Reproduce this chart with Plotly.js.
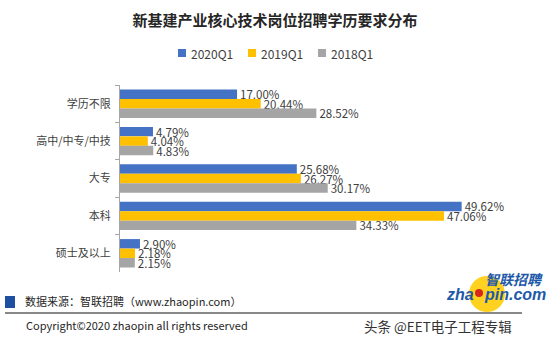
<!DOCTYPE html>
<html>
<head>
<meta charset="utf-8">
<script src="https://cdn.plot.ly/plotly-3.0.1.min.js"></script>
<style>html,body{margin:0;padding:0;background:#fff;}#chart{width:550px;height:346px;}</style>
</head>
<body>
<div id="chart"></div>
<script>
const categories = ["学历不限", "高中/中专/中技", "大专", "本科", "硕士及以上"];
const seriesNames = ["2020Q1", "2019Q1", "2018Q1"];
const values2020 = [17.00, 4.79, 25.68, 49.62, 2.90];
const values2019 = [20.44, 4.04, 26.27, 47.06, 2.18];
const values2018 = [28.52, 4.83, 30.17, 34.33, 2.15];
const colors = ["#4472C4", "#FFC000", "#A5A5A5"];

const FONT = "Noto Sans CJK SC, Noto Sans, sans-serif";
const allValues = [values2020, values2019, values2018];

const traces = allValues.map((vals, i) => ({
  type: "bar",
  orientation: "h",
  name: seriesNames[i],
  y: categories,
  x: vals,
  marker: {color: colors[i]},
  text: vals.map(v => v.toFixed(2) + "%"),
  textposition: "outside",
  constraintext: "none",
  cliponaxis: false,
  textfont: {size: 11.5, color: "#404040", family: FONT},
  hoverinfo: "none",
  showlegend: false
}));

// pixel helpers (plot area: x 120..540, y 85..272)
const L = 120, W = 420, T = 85, H = 187;
const px = x => (x - L) / W;
const py = y => (T + H - y) / H;

// compact legend (square swatch + label), built from the series arrays
const legendShapes = [], legendAnnots = [];
seriesNames.forEach((n, i) => {
  const x0 = 178 + 70 * i;
  legendShapes.push({type: "rect", xref: "paper", yref: "paper",
    x0: px(x0), x1: px(x0 + 8), y0: py(57), y1: py(49),
    fillcolor: colors[i], line: {width: 0}});
  legendAnnots.push({xref: "paper", yref: "paper", x: px(x0 + 11), y: py(53),
    xanchor: "left", yanchor: "middle", text: n, showarrow: false,
    font: {size: 12, color: "#404040", family: FONT}});
});

const layout = {
  width: 550, height: 346,
  margin: {l: L, r: 550 - L - W, t: T, b: 346 - T - H},
  paper_bgcolor: "#fff", plot_bgcolor: "#fff",
  font: {family: FONT, color: "#404040", size: 11},
  title: {
    text: "<b>新基建产业核心技术岗位招聘学历要求分布</b>",
    x: 0.5, xref: "container", xanchor: "center",
    y: 1 - 21 / 346, yref: "container", yanchor: "middle",
    font: {size: 15, color: "#262626", family: FONT}
  },
  showlegend: false,
  barmode: "group",
  bargap: 0.24,
  bargroupgap: 0,
  xaxis: {
    range: [0, 61], showgrid: false, zeroline: false,
    showticklabels: false, showline: false, ticks: "", fixedrange: true
  },
  yaxis: {
    type: "category",
    autorange: "reversed",
    showline: true, linecolor: "#A6A6A6", linewidth: 1,
    ticks: "outside", ticklen: 4, tickcolor: "#A6A6A6",
    tickson: "boundaries",
    ticklabelstandoff: 6,
    showgrid: false, zeroline: false,
    tickfont: {size: 11, color: "#404040", family: FONT}
  },
  shapes: legendShapes.concat([
    {type: "rect", xref: "paper", yref: "paper", x0: px(5), x1: px(15), y0: py(308), y1: py(296),
     fillcolor: "#1F4FA0", line: {width: 0}},
    {type: "line", xref: "paper", yref: "paper", x0: px(5), x1: px(522), y0: py(313), y1: py(313),
     line: {color: "#606060", width: 1.5}},
    {type: "circle", xref: "paper", yref: "paper", x0: px(469), x1: px(505), y0: py(312), y1: py(276),
     fillcolor: "#FFD21F", line: {width: 0}, layer: "above"},
    {type: "circle", xref: "paper", yref: "paper", x0: px(475), x1: px(483), y0: py(297), y1: py(289),
     fillcolor: "#D7261E", line: {width: 0}, layer: "above"}
  ]),
  annotations: legendAnnots.concat([
    {xref: "paper", yref: "paper", x: px(23), y: py(301), xanchor: "left", yanchor: "middle",
     text: "数据来源：智联招聘（www.zhaopin.com）", showarrow: false,
     font: {size: 11, color: "#262626", family: FONT}},
    {xref: "paper", yref: "paper", x: px(24), y: py(325), xanchor: "left", yanchor: "middle",
     text: "Copyright©2020 zhaopin all rights reserved", showarrow: false,
     font: {size: 11, color: "#262626", family: FONT}},
    {xref: "paper", yref: "paper", x: px(362), y: py(326), xanchor: "left", yanchor: "middle",
     text: "头条 @EET电子工程专辑", showarrow: false,
     font: {size: 13.5, color: "#333333", family: FONT}},
    {xref: "paper", yref: "paper", x: px(476), y: py(294), xanchor: "right", yanchor: "middle",
     text: "<b><i>zha</i></b>", showarrow: false,
     font: {size: 16, color: "#1E5AA8", family: "Liberation Sans, Arial, sans-serif"}},
    {xref: "paper", yref: "paper", x: px(482), y: py(294), xanchor: "left", yanchor: "middle",
     text: "<b><i>pin.com</i></b>", showarrow: false,
     font: {size: 16, color: "#1E5AA8", family: "Liberation Sans, Arial, sans-serif"}},
    {xref: "paper", yref: "paper", x: px(514), y: py(279), xanchor: "center", yanchor: "middle",
     text: "<b><i>智联招聘</i></b>", showarrow: false,
     font: {size: 14, color: "#1E5AA8", family: FONT}}
  ])
};

Plotly.newPlot("chart", traces, layout, {displayModeBar: false, staticPlot: true});
</script>
</body>
</html>
